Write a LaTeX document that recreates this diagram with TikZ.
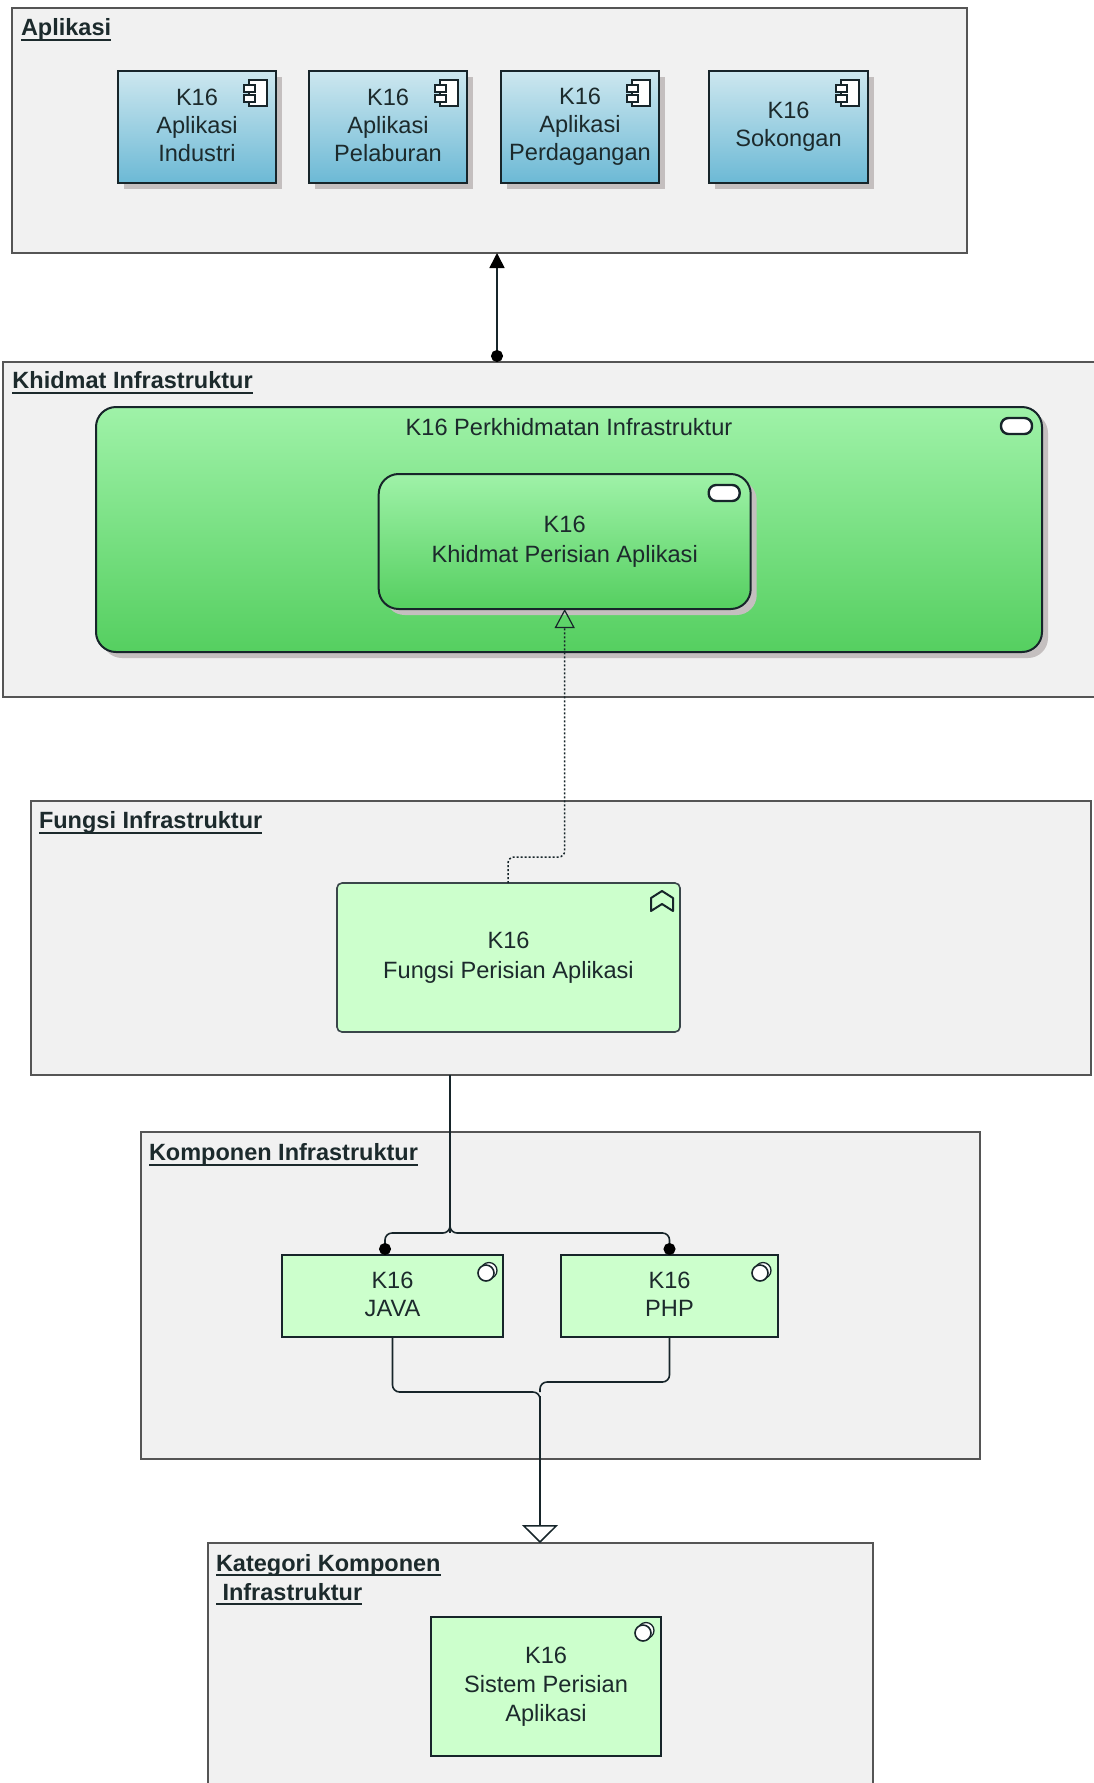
\documentclass[tikz,border=0pt]{standalone}
\usepackage{fontspec}
\setmainfont{Liberation Sans}
\usetikzlibrary{arrows.meta,shadows,calc}
\definecolor{frameline}{HTML}{555555}
\definecolor{framefill}{HTML}{F1F1F1}
\definecolor{boxline}{HTML}{17252A}
\definecolor{txt}{HTML}{1C2A2C}
\definecolor{bluetop}{HTML}{CDE7EF}
\definecolor{bluebot}{HTML}{6CB9D5}
\definecolor{greentop}{HTML}{9FF2A8}
\definecolor{greenbot}{HTML}{55CF60}
\definecolor{lightgreen}{HTML}{CCFFCC}
\definecolor{shadowc}{HTML}{C4BFBF}
\newcommand{\linestrut}{\rule[-4pt]{0pt}{26pt}}
\newcommand{\ttl}[1]{\setbox0\hbox{#1}\rlap{\rule[-5pt]{\wd0}{2pt}}\box0 }
\tikzset{
  every node/.style={inner sep=0pt,outer sep=0pt,text=txt,font=\fontsize{23.6}{28}\selectfont,align=center},
  lined/.style={execute at begin node=\linestrut,execute at end node=\linestrut},
  frame/.style={draw=frameline,fill=framefill,line width=1.6pt,rectangle},
  frametitle/.style={lined,anchor=west,align=left,font=\fontsize{23.5}{29}\selectfont\bfseries},
  appbox/.style={lined,rectangle,draw=boxline,line width=2pt,top color=bluetop,bottom color=bluebot,
    copy shadow={shadow xshift=6pt,shadow yshift=-6pt,fill=shadowc,draw=none}},
  svcbox/.style={lined,font=\fontsize{23.6}{29.5}\selectfont,rectangle,rounded corners=20pt,draw=boxline,line width=2pt,top color=greentop,bottom color=greenbot,
    copy shadow={shadow xshift=6pt,shadow yshift=-6pt,fill=shadowc,draw=none}},
  funcbox/.style={lined,font=\fontsize{23.6}{29.5}\selectfont,rectangle,rounded corners=5pt,draw=boxline!85,line width=1.6pt,fill=lightgreen},
  techbox/.style={lined,rectangle,draw=boxline,line width=1.5pt,fill=lightgreen},
  sysbox/.style={techbox,font=\fontsize{23.6}{29}\selectfont},
  plaintext/.style={lined},
  iconline/.style={draw=boxline,line width=2pt,fill=white},
  conn/.style={draw=boxline,line width=1.6pt,rounded corners=7pt},
  trunk/.style={draw=boxline,line width=2.2pt},
  realiz/.style={draw=boxline,line width=1.5pt,dash pattern=on 2pt off 2pt,rounded corners=6pt},
  dotstart/.style={{Circle[length=12pt,width=12pt,black]}-},
  bigopen/.style={-{Triangle[length=18pt,width=36pt,fill=white,line width=1.5pt]}},
  smallopen/.style={-{Triangle[open,length=19pt,width=20pt,line width=1.2pt]}}
}
\newcommand{\compicon}[1]{%
  \begin{scope}[shift={#1}]
    \draw[iconline] (-18,0) rectangle (0,-26);
    \draw[iconline] (-23,-5) rectangle (-12,-12);
    \draw[iconline] (-23,-15) rectangle (-12,-22);
  \end{scope}}
\newcommand{\svcicon}[1]{%
  \draw[iconline,line width=2.4pt,rounded corners=7.5pt] ($#1+(-31,0)$) rectangle ($#1+(0,-16)$);}
\newcommand{\funcicon}[1]{%
  \begin{scope}[shift={#1}]
    \draw[iconline,fill=none,line join=round] (-22,-20) -- (-22,-7) -- (-11,0) -- (0,-7) -- (0,-20) -- (-11,-13) -- cycle;
  \end{scope}}
\newcommand{\sysicon}[1]{%
  \begin{scope}[shift={#1}]
    \draw[iconline,line width=1.3pt] (3,2.5) circle (8);
    \draw[iconline,line width=1.6pt] (0,0) circle (8);
  \end{scope}}
\begin{document}
\begin{tikzpicture}[x=1pt,y=1pt]
\useasboundingbox (0,0) rectangle (1094,-1783);
\clip (0,0) rectangle (1094,-1783);
\fill[white] (0,0) rectangle (1094,-1783);

% frames
\node[frame,minimum width=955pt,minimum height=245pt] (fApp) at (489.5,-130.5) {};
\node[frame,minimum width=1110pt,minimum height=335pt] (fKhid) at (558,-529.5) {};
\node[frame,minimum width=1060pt,minimum height=274pt] (fFung) at (561,-938) {};
\node[frame,minimum width=839pt,minimum height=327pt] (fKomp) at (560.5,-1295.5) {};
\node[frame,minimum width=665pt,minimum height=280pt] (fKat) at (540.5,-1683) {};

% frame titles
\node[frametitle] (tApp) at (21,-27) {\ttl{Aplikasi}};
\node[frametitle] (tKhid) at (12.5,-380) {\ttl{Khidmat Infrastruktur}};
\node[frametitle] (tFung) at (39,-820) {\ttl{Fungsi Infrastruktur}};
\node[frametitle] (tKomp) at (149,-1152) {\ttl{Komponen Infrastruktur}};
\node[frametitle] (tKat) at (216,-1579.5) {\ttl{Kategori Komponen}\\\ttl{\ Infrastruktur}};

% application components
\node[appbox,minimum width=158pt,minimum height=112pt] (a1) at (197,-127) {K16\\Aplikasi\\Industri};
\node[appbox,minimum width=158pt,minimum height=112pt] (a2) at (388,-127) {K16\\Aplikasi\\Pelaburan};
\node[appbox,minimum width=158pt,minimum height=112pt] (a3) at (580,-127) {K16\\Aplikasi\\Perdagangan};
\node[appbox,minimum width=159pt,minimum height=112pt] (a4) at (788.5,-127) {K16\\Sokongan};
\compicon{([shift={(-9,-9)}]a1.north east)}
\compicon{([shift={(-9,-9)}]a2.north east)}
\compicon{([shift={(-9,-9)}]a3.north east)}
\compicon{([shift={(-9,-9)}]a4.north east)}

% services
\node[svcbox,minimum width=946pt,minimum height=245pt] (s1) at (569,-529.5) {};
\node[plaintext] (s1t) at (569,-426) {K16 Perkhidmatan Infrastruktur};
\node[svcbox,minimum width=372pt,minimum height=135pt] (s2) at (564.7,-541.5) {K16\\Khidmat Perisian Aplikasi};
\svcicon{([shift={(-10,-11)}]s1.north east)}
\svcicon{([shift={(-11,-11)}]s2.north east)}

% function
\node[funcbox,minimum width=343pt,minimum height=149pt] (fn) at (508.5,-957.5) {K16\\Fungsi Perisian Aplikasi};
\funcicon{([shift={(-7,-8)}]fn.north east)}

% system software
\node[techbox,minimum width=221pt,minimum height=82pt] (java) at (392.5,-1296) {K16\\JAVA};
\node[techbox,minimum width=217pt,minimum height=82pt] (php) at (669.5,-1296) {K16\\PHP};
\node[sysbox,minimum width=230pt,minimum height=139pt] (sys) at (546,-1686.5) {K16\\Sistem Perisian\\Aplikasi};
\sysicon{([shift={(-17,-18)}]java.north east)}
\sysicon{([shift={(-18,-18)}]php.north east)}
\sysicon{([shift={(-18,-16)}]sys.north east)}

% connector points
\coordinate (khidTop) at ([xshift=-61pt]fKhid.north);
\coordinate (appBot) at (khidTop |- fApp.south);
\coordinate (fnOut) at ([xshift=-0.5pt]fn.north);
\coordinate (fnBend) at (fnOut |- 0,-857);
\coordinate (svcIn) at (s2.south);
\coordinate (svcBend) at (svcIn |- fnBend);
\coordinate (fungOut) at (450,-1075);
\coordinate (bus) at (450,-1233);
\coordinate (javaIn) at ([xshift=-7.5pt]java.north);
\coordinate (phpIn) at (php.north);
\coordinate (javaOut) at (java.south);
\coordinate (phpOut) at (php.south);
\coordinate (katIn) at (540,-1543);
\coordinate (javaBend) at (javaOut |- 0,-1392);
\coordinate (phpBend) at (phpOut |- 0,-1382);
\coordinate (joinA) at (katIn |- javaBend);
\coordinate (joinB) at (katIn |- phpBend);

% connectors
\draw[draw=boxline,line width=1.6pt,{Circle[length=12pt,width=12pt,black]}-{Triangle[length=15pt,width=15pt,black]}] (khidTop) -- (appBot);
\draw[realiz,smallopen] (fnOut) -- (fnBend) -- (svcBend) -- (svcIn);
\draw[conn] (bus) -- (fungOut);
\draw[trunk] (fungOut) -- ([yshift=7pt]bus);
\draw[conn,dotstart] (javaIn) -- (javaIn |- bus) -- (bus) -- ([yshift=7pt]bus);
\draw[conn,dotstart] (phpIn) -- (phpIn |- bus) -- (bus) -- ([yshift=7pt]bus);
\draw[conn] (javaOut) -- (javaBend) -- (joinA) -- ([yshift=-10pt]joinA);
\draw[conn] (phpOut) -- (phpBend) -- (joinB) -- ([yshift=-10pt]joinB);
\draw[trunk,bigopen] ([yshift=-4pt]joinA) -- (katIn);
\end{tikzpicture}
\end{document}
